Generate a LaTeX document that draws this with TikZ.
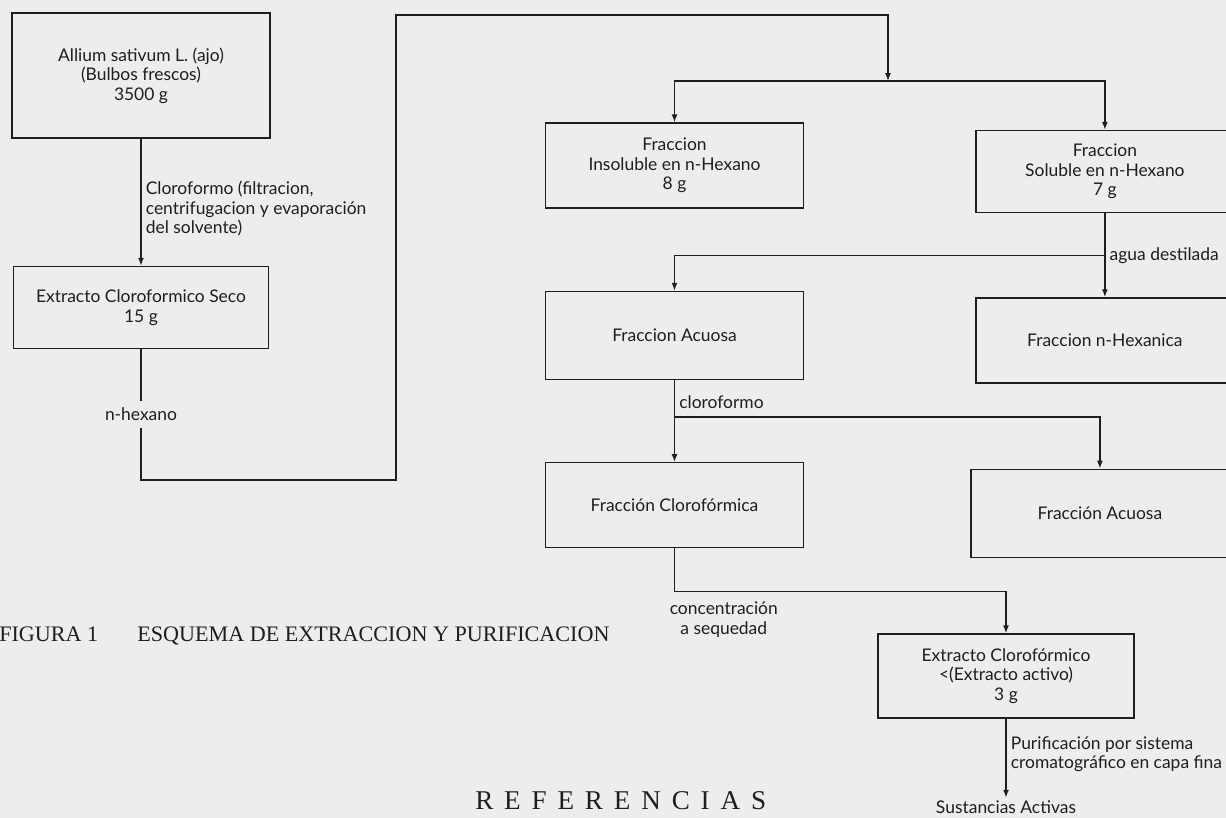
\documentclass[tikz,border=0pt]{standalone}
\usepackage{fontspec}
\setmainfont{Liberation Serif}
\newfontfamily\chartfont{Lato}
\newfontfamily\refsfont[LetterSpace=40]{Liberation Serif}
\usetikzlibrary{arrows.meta,positioning}
\definecolor{ScanPaper}{HTML}{EDEDED}
\definecolor{ScanInk}{HTML}{1E1E1E}

\begin{document}
\begin{tikzpicture}[
  x=1in, y=1in,
  stagebox/.style={draw=ScanInk, line width=1pt, minimum width=2.58in,
    minimum height=0.85in, align=center, inner sep=2pt, text=ScanInk,
    font=\chartfont\fontsize{12.6}{14.2}\selectfont},
  flow/.style={-{Latex[length=2mm,width=1.5mm]}, line width=1pt, draw=ScanInk},
  steplabel/.style={font=\chartfont\fontsize{12.6}{14.2}\selectfont, text=ScanInk,
    align=left, inner sep=3pt},
  caption/.style={font=\fontsize{16}{18}\selectfont, text=ScanInk, inner sep=0pt}
]
\fill[ScanPaper] (0,0) rectangle (12.26,-8.18);
\useasboundingbox (0,0) rectangle (12.26,-8.18);
\node[stagebox, minimum height=1.25in] (ajo) at (1.41,-0.755) {Allium sativum L. (ajo)\\(Bulbos frescos)\\3500 g};
\node[stagebox, minimum width=2.55in, minimum height=0.82in, below=1.27in of ajo] (seco) {Extracto Cloroformico Seco\\15 g};
\node[stagebox] (insol) at (6.745,-1.655) {Fraccion\\Insoluble en n-Hexano\\8 g};
\node[stagebox, minimum height=0.82in, right=1.71in of insol, yshift=-0.06in] (sol) {Fraccion\\Soluble en n-Hexano\\7 g};
\node[stagebox, minimum height=0.88in, below=0.82in of insol] (acuosa) {Fraccion Acuosa};
\node[stagebox, below=0.84in of sol] (hexanica) {Fraccion n-Hexanica};
\node[stagebox, below=0.82in of acuosa] (cloro) {Fracción Clorofórmica};
\node[stagebox, minimum height=0.88in, right=1.66in of cloro, yshift=-0.08in] (acuosab) {Fracción Acuosa};
\node[stagebox, minimum width=2.56in, minimum height=0.84in] (extracto) at (10.06,-6.76) {Extracto Clorofórmico\\<(Extracto activo)\\3 g};
\node[steplabel, inner sep=2pt, below=0.79in of extracto] (activas) {Sustancias Activas};
\draw[flow] (ajo) -- node[steplabel, right, pos=0.55] {Cloroformo (filtracion,\\centrifugacion y evaporación\\del solvente)} (seco);
\coordinate (hexbottom) at ([yshift=-1.31in]seco.south);
\coordinate (loopcorner) at (3.96,-0.15);
\coordinate (hexsplit) at (8.88,-0.81);
\draw[flow] (seco) -- node[steplabel, fill=ScanPaper, inner ysep=5pt] {n-hexano} (hexbottom) -| (loopcorner) -| (hexsplit);
\draw[flow] (hexsplit) -| (insol);
\draw[flow] (hexsplit) -| (sol);
\draw[flow] (sol) -- coordinate[pos=0.5] (aguasplit) node[steplabel, right, pos=0.5] {agua destilada} (hexanica);
\draw[flow] (aguasplit) -| (acuosa);
\draw[flow] (acuosa) -- node[steplabel, right, pos=0.27] {cloroformo} coordinate[pos=0.45] (clorosplit) (cloro);
\draw[flow] (clorosplit) -| (acuosab);
\coordinate (concbend) at ([yshift=-0.43in]cloro.south);
\draw[flow] (cloro) -- (concbend) -| (extracto);
\node[steplabel, align=center, anchor=north west, inner sep=0pt] (conclabel) at ([xshift=-0.05in, yshift=-0.1in]concbend) {concentración\\a sequedad};
\draw[flow] (extracto) -- node[steplabel, right, pos=0.45] {Purificación por sistema\\cromatográfico en capa fina} (activas);
\node[caption, anchor=base west] (fignum) at (-0.01,-6.41) {FIGURA 1};
\node[caption, anchor=base west] (figtitle) at (1.37,-6.41) {ESQUEMA DE EXTRACCION Y PURIFICACION};
\node[caption, anchor=base west, font=\refsfont\fontsize{19.6}{22}\selectfont] (refs) at (4.75,-8.09) {REFERENCIAS};
\end{tikzpicture}
\end{document}
